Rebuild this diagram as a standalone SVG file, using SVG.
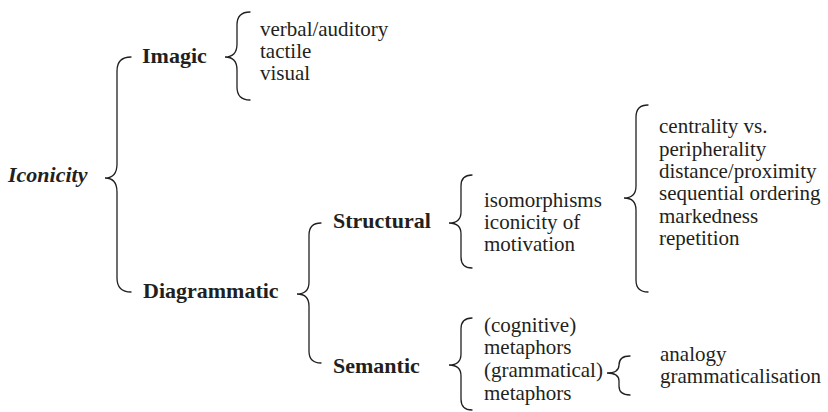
<svg xmlns="http://www.w3.org/2000/svg" width="828" height="412" viewBox="0 0 828 412">
  <style>
    text { fill: #231f20; }
    .head { font-size: 22px; font-weight: bold; }
    .root { font-size: 22px; font-weight: bold; font-style: italic; }
    .item { font-size: 21px; }
    .brace { fill: none; stroke: #231f20; stroke-width: 1.3; stroke-linecap: round; }
  </style>
  <rect width="828" height="412" fill="#ffffff"/>

  <!-- curly braces joining each term to its sub-terms -->
  <g id="connectors">
    <path class="brace" d="M131 57 Q117 57 117 71 L117 164 Q117 178 105 178 Q117 178 117 192 L117 278 Q117 292 131 292"/>
    <path class="brace" d="M250 12 Q237 12 237 25 L237 44 Q237 57 225 57 Q237 57 237 70 L237 87 Q237 100 250 100"/>
    <path class="brace" d="M321 223 Q309 223 309 235 L309 282 Q309 294 297 294 Q309 294 309 306 L309 351 Q309 363 321 363"/>
    <path class="brace" d="M472 175 Q461 175 461 186 L461 212 Q461 223 449 223 Q461 223 461 234 L461 257 Q461 268 472 268"/>
    <path class="brace" d="M648 105 Q636 105 636 117 L636 186 Q636 198 624 198 Q636 198 636 210 L636 280 Q636 292 648 292"/>
    <path class="brace" d="M472 318 Q461 318 461 329 L461 354 Q461 365 449 365 Q461 365 461 376 L461 399 Q461 410 472 410"/>
    <path class="brace" d="M630 356 Q619 356 619 365 Q619 373 607 373 Q619 373 619 381 L619 386 Q619 395 630 395"/>
  </g>

  <g font-family="'Liberation Serif', 'DejaVu Serif', serif">
    <g id="iconicity"><text class="root" x="8" y="182">Iconicity</text></g>
    <g id="imagic"><text class="head" x="142" y="63">Imagic</text></g>
    <g id="diagrammatic"><text class="head" x="143" y="298">Diagrammatic</text></g>
    <g id="structural"><text class="head" x="333" y="228">Structural</text></g>
    <g id="semantic"><text class="head" x="333" y="373">Semantic</text></g>

    <g id="imagic-types">
      <text class="item" x="260" y="36">verbal/auditory</text>
      <text class="item" x="260" y="58">tactile</text>
      <text class="item" x="260" y="80">visual</text>
    </g>

    <g id="structural-types">
      <text class="item" x="484" y="207">isomorphisms</text>
      <text class="item" x="484" y="229">iconicity of</text>
      <text class="item" x="484" y="251">motivation</text>
    </g>

    <g id="motivation-types">
      <text class="item" x="659" y="133">centrality vs.</text>
      <text class="item" x="659" y="156">peripherality</text>
      <text class="item" x="659" y="178">distance/proximity</text>
      <text class="item" x="659" y="200">sequential ordering</text>
      <text class="item" x="659" y="223">markedness</text>
      <text class="item" x="659" y="245">repetition</text>
    </g>

    <g id="semantic-types">
      <text class="item" x="484" y="332">(cognitive)</text>
      <text class="item" x="484" y="354">metaphors</text>
      <text class="item" x="484" y="377">(grammatical)</text>
      <text class="item" x="484" y="400">metaphors</text>
    </g>

    <g id="metaphor-types">
      <text class="item" x="660" y="361">analogy</text>
      <text class="item" x="660" y="383">grammaticalisation</text>
    </g>
  </g>
</svg>
